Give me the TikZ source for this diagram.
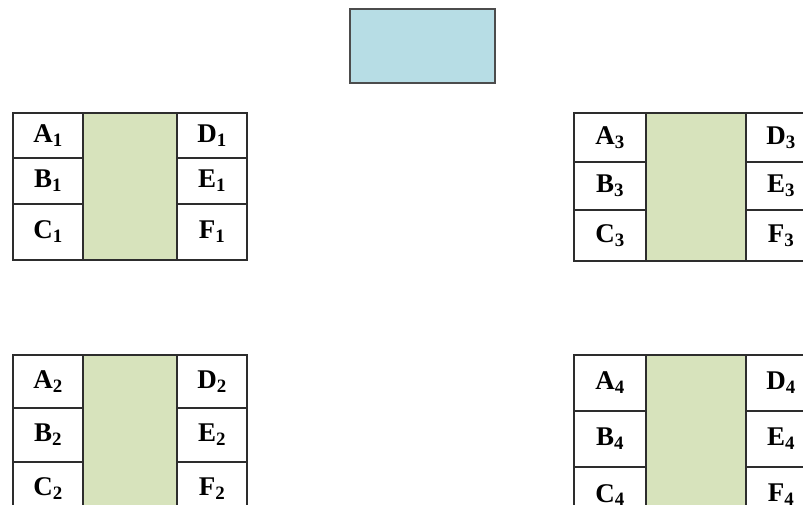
\documentclass[tikz,border=0pt]{standalone}
\usepackage{fontspec}
\setmainfont{Liberation Serif}
\definecolor{hubblue}{RGB}{183,221,229}
\definecolor{coregreen}{RGB}{215,227,188}
\definecolor{edgegray}{RGB}{45,45,45}
\tikzset{
	lab/.style={draw=edgegray, line width=1.3pt, fill=white, minimum width=70, inner sep=0pt,
		font=\fontsize{27}{30}\selectfont\bfseries},
	core/.style={draw=edgegray, line width=1.3pt, fill=coregreen, inner sep=0pt},
	hub/.style={draw=black!70, line width=1.8pt, fill=hubblue, inner sep=0pt,
		minimum width=145, minimum height=74}
}
\begin{document}
\begin{tikzpicture}[x=1pt, y=-1pt]
	\useasboundingbox (0,0) rectangle (803,505);
	\clip (0,0) rectangle (803,505);
	
	\node[hub] (hub) at (422.5,46) {};
	
	% top left
	\node[core, minimum width=94, minimum height=147] (g1) at (130,186.5) {};
	\node[lab, minimum height=45] (a1) at (48,135.5) {A\textsubscript{1}};
	\node[lab, minimum height=46] (b1) at (48,181) {B\textsubscript{1}};
	\node[lab, minimum height=56] (c1) at (48,232) {C\textsubscript{1}};
	\node[lab, minimum height=45] (d1) at (212,135.5) {D\textsubscript{1}};
	\node[lab, minimum height=46] (e1) at (212,181) {E\textsubscript{1}};
	\node[lab, minimum height=56] (f1) at (212,232) {F\textsubscript{1}};
	
	% bottom left
	\node[core, minimum width=94, minimum height=161] (g2) at (130,435.5) {};
	\node[lab, minimum height=53] (a2) at (48,381.5) {A\textsubscript{2}};
	\node[lab, minimum height=54] (b2) at (48,435) {B\textsubscript{2}};
	\node[lab, minimum height=54] (c2) at (48,489) {C\textsubscript{2}};
	\node[lab, minimum height=53] (d2) at (212,381.5) {D\textsubscript{2}};
	\node[lab, minimum height=54] (e2) at (212,435) {E\textsubscript{2}};
	\node[lab, minimum height=54] (f2) at (212,489) {F\textsubscript{2}};
	
	% top right
	\node[core, minimum width=100, minimum height=148] (g3) at (696,187) {};
	\node[lab, minimum width=72, minimum height=49] (a3) at (610,137.5) {A\textsubscript{3}};
	\node[lab, minimum width=72, minimum height=48] (b3) at (610,186) {B\textsubscript{3}};
	\node[lab, minimum width=72, minimum height=51] (c3) at (610,235.5) {C\textsubscript{3}};
	\node[lab, minimum height=49] (d3) at (781,137.5) {D\textsubscript{3}};
	\node[lab, minimum height=48] (e3) at (781,186) {E\textsubscript{3}};
	\node[lab, minimum height=51] (f3) at (781,235.5) {F\textsubscript{3}};
	
	% bottom right
	\node[core, minimum width=100, minimum height=168] (g4) at (696,439) {};
	\node[lab, minimum width=72, minimum height=56] (a4) at (610,383) {A\textsubscript{4}};
	\node[lab, minimum width=72, minimum height=56] (b4) at (610,439) {B\textsubscript{4}};
	\node[lab, minimum width=72, minimum height=56] (c4) at (610,495) {C\textsubscript{4}};
	\node[lab, minimum height=56] (d4) at (781,383) {D\textsubscript{4}};
	\node[lab, minimum height=56] (e4) at (781,439) {E\textsubscript{4}};
	\node[lab, minimum height=56] (f4) at (781,495) {F\textsubscript{4}};
\end{tikzpicture}
\end{document}
